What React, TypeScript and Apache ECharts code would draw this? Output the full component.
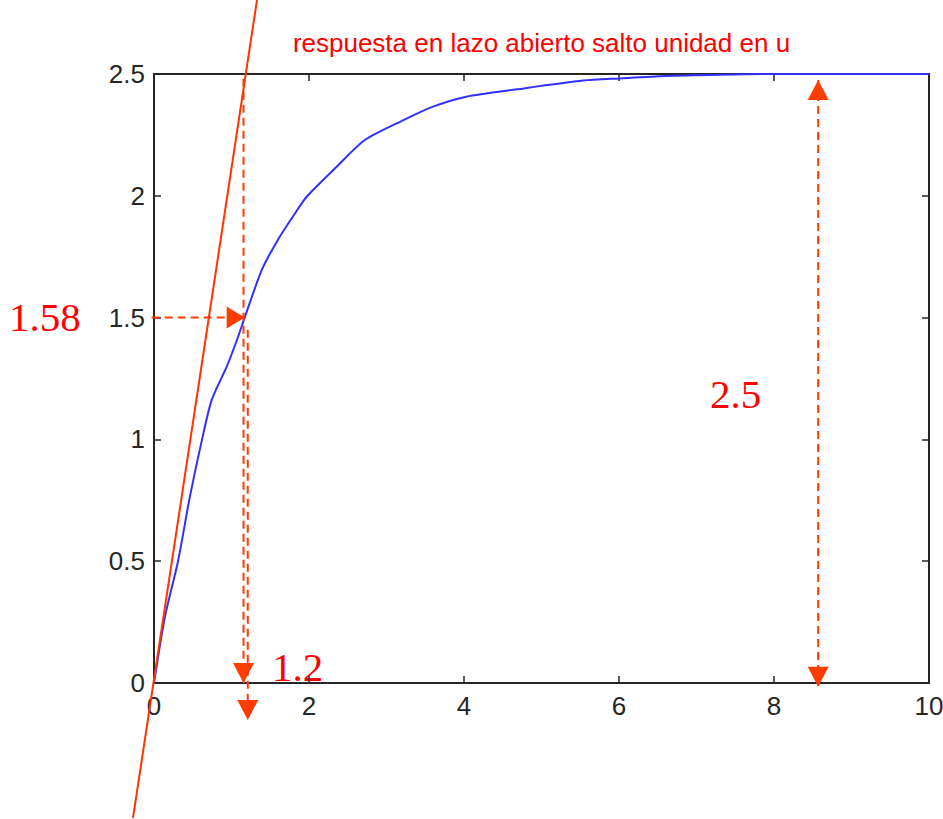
import React, { useEffect, useRef } from "react";
import * as echarts from "echarts";

// Step response
const timeValues = [0, 0.14, 0.31, 0.46, 0.62, 0.745, 0.94, 1.07, 1.17, 1.39, 1.6, 1.82, 1.97, 2.36, 2.72, 3.22, 3.6, 4.03, 4.68, 5.54, 6.01, 6.6, 7.3, 8.03, 9, 10];
const responseValues = [0, 0.27, 0.5, 0.76, 1.0, 1.162, 1.3, 1.408, 1.5, 1.695, 1.82, 1.928, 1.996, 2.12, 2.229, 2.311, 2.366, 2.407, 2.437, 2.473, 2.482, 2.492, 2.497, 2.5, 2.5, 2.5];

// Tangent line at origin: [x0, y0, x1, y1] (endpoints at the picture's edges)
const tangentLine = [-0.271, -0.554, 1.329, 2.804];

// Dashed guide lines: [x0, y0, x1, y1]
const guideHorizontal = [-0.03, 1.5, 1.17, 1.5];
const guideVerticalA = [1.155, 2.48, 1.155, 0];
const guideVerticalB = [1.21, 1.45, 1.21, -0.152];
const guideGain = [8.57, 2.475, 8.57, -0.015];

// Arrow tips: [x, y, direction]
const arrowTips: [number, number, string][] = [
  [1.17, 1.5, "right"],
  [1.155, 0, "down"],
  [1.21, -0.152, "down"],
  [8.57, 2.475, "up"],
  [8.57, -0.015, "down"],
];

const xTicks = { min: 0, max: 10, interval: 2 };
const yTicks = { min: 0, max: 2.5, interval: 0.5 };

const titleText = "respuesta en lazo abierto salto unidad en u";
const annotations = [
  { text: "1.58", x: 9, y: 317 },
  { text: "1.2", x: 272, y: 667 },
  { text: "2.5", x: 710, y: 394 },
];

const AXIS_COLOR = "#262626";
const ARROW_COLOR = "#ff3c00";

export default function App() {
  const ref = useRef<HTMLDivElement>(null);

  useEffect(() => {
    if (!ref.current) return;
    const chart = echarts.init(ref.current, undefined, { renderer: "svg" });

    const axisCommon = {
      type: "value" as const,
      splitLine: { show: false },
      axisLine: { show: true, onZero: false, lineStyle: { color: AXIS_COLOR, width: 2 } },
      axisTick: { show: true, inside: true, length: 7, lineStyle: { color: AXIS_COLOR, width: 1.5 } },
    };
    const labelStyle = {
      fontSize: 26,
      color: AXIS_COLOR,
      fontFamily: "Liberation Sans, Arial, sans-serif",
    };

    const segmentSeries = (segments: number[][], color: string, dashed: boolean, z: number) => ({
      type: "custom",
      coordinateSystem: "cartesian2d",
      clip: false,
      silent: true,
      z,
      encode: { x: [0, 2], y: [1, 3] },
      data: segments,
      renderItem: (_params: any, api: any) => {
        const p0 = api.coord([api.value(0), api.value(1)]);
        const p1 = api.coord([api.value(2), api.value(3)]);
        return {
          type: "line",
          shape: { x1: p0[0], y1: p0[1], x2: p1[0], y2: p1[1] },
          style: {
            stroke: color,
            lineWidth: 2,
            lineDash: dashed ? [8, 5] : null,
            fill: null,
          },
        };
      },
    });

    const rot: Record<string, number> = { up: 0, down: 180, right: -90, left: 90 };
    const off: Record<string, number[]> = { up: [0, 10], down: [0, -10], right: [-9, 0], left: [9, 0] };

    chart.setOption({
      animation: false,
      backgroundColor: "#ffffff",
      grid: { left: 154, top: 74, width: 775, height: 609, containLabel: false, outerBoundsMode: "none" },
      xAxis: [
        { ...axisCommon, ...xTicks, position: "bottom", axisLabel: { ...labelStyle, margin: 10 } },
        { ...axisCommon, ...xTicks, position: "top", axisLabel: { show: false } },
      ],
      yAxis: [
        { ...axisCommon, ...yTicks, position: "left", axisLabel: { ...labelStyle, margin: 9 } },
        { ...axisCommon, ...yTicks, position: "right", axisLabel: { show: false } },
      ],
      series: [
        {
          type: "line",
          name: "respuesta",
          data: timeValues.map((t, i) => [t, responseValues[i]]),
          symbol: "none",
          smooth: 0.25,
          z: 3,
          lineStyle: { color: "#3030ff", width: 2 },
        },
        segmentSeries([tangentLine], "#ff3300", false, 5),
        segmentSeries([guideHorizontal, guideVerticalA, guideVerticalB, guideGain], ARROW_COLOR, true, 4),
        {
          type: "scatter",
          clip: false,
          silent: true,
          z: 6,
          symbol: "triangle",
          itemStyle: { color: ARROW_COLOR, opacity: 1 },
          data: arrowTips.map(([x, y, d]) => ({
            value: [x, y],
            symbolRotate: rot[d],
            symbolOffset: off[d],
            symbolSize: d === "right" || d === "left" ? [22, 18] : [21, 20],
          })),
        },
      ],
      graphic: [
        {
          type: "text",
          x: 541.5,
          y: 43,
          silent: true,
          style: {
            text: titleText,
            fill: "#ff0000",
            fontSize: 26,
            fontFamily: "Liberation Sans, Arial, sans-serif",
            textAlign: "center",
            textVerticalAlign: "middle",
          },
        },
        ...annotations.map((a) => ({
          type: "text",
          x: a.x,
          y: a.y,
          silent: true,
          style: {
            text: a.text,
            fill: "#ff0000",
            fontSize: 41,
            fontFamily: "Liberation Serif, Times New Roman, serif",
            textAlign: "left",
            textVerticalAlign: "middle",
          },
        })),
      ],
    });

    return () => chart.dispose();
  }, []);

  return (
    <div
      ref={ref}
      style={{ position: "absolute", left: 0, top: 0, width: 943, height: 819, background: "#fff" }}
    />
  );
}
